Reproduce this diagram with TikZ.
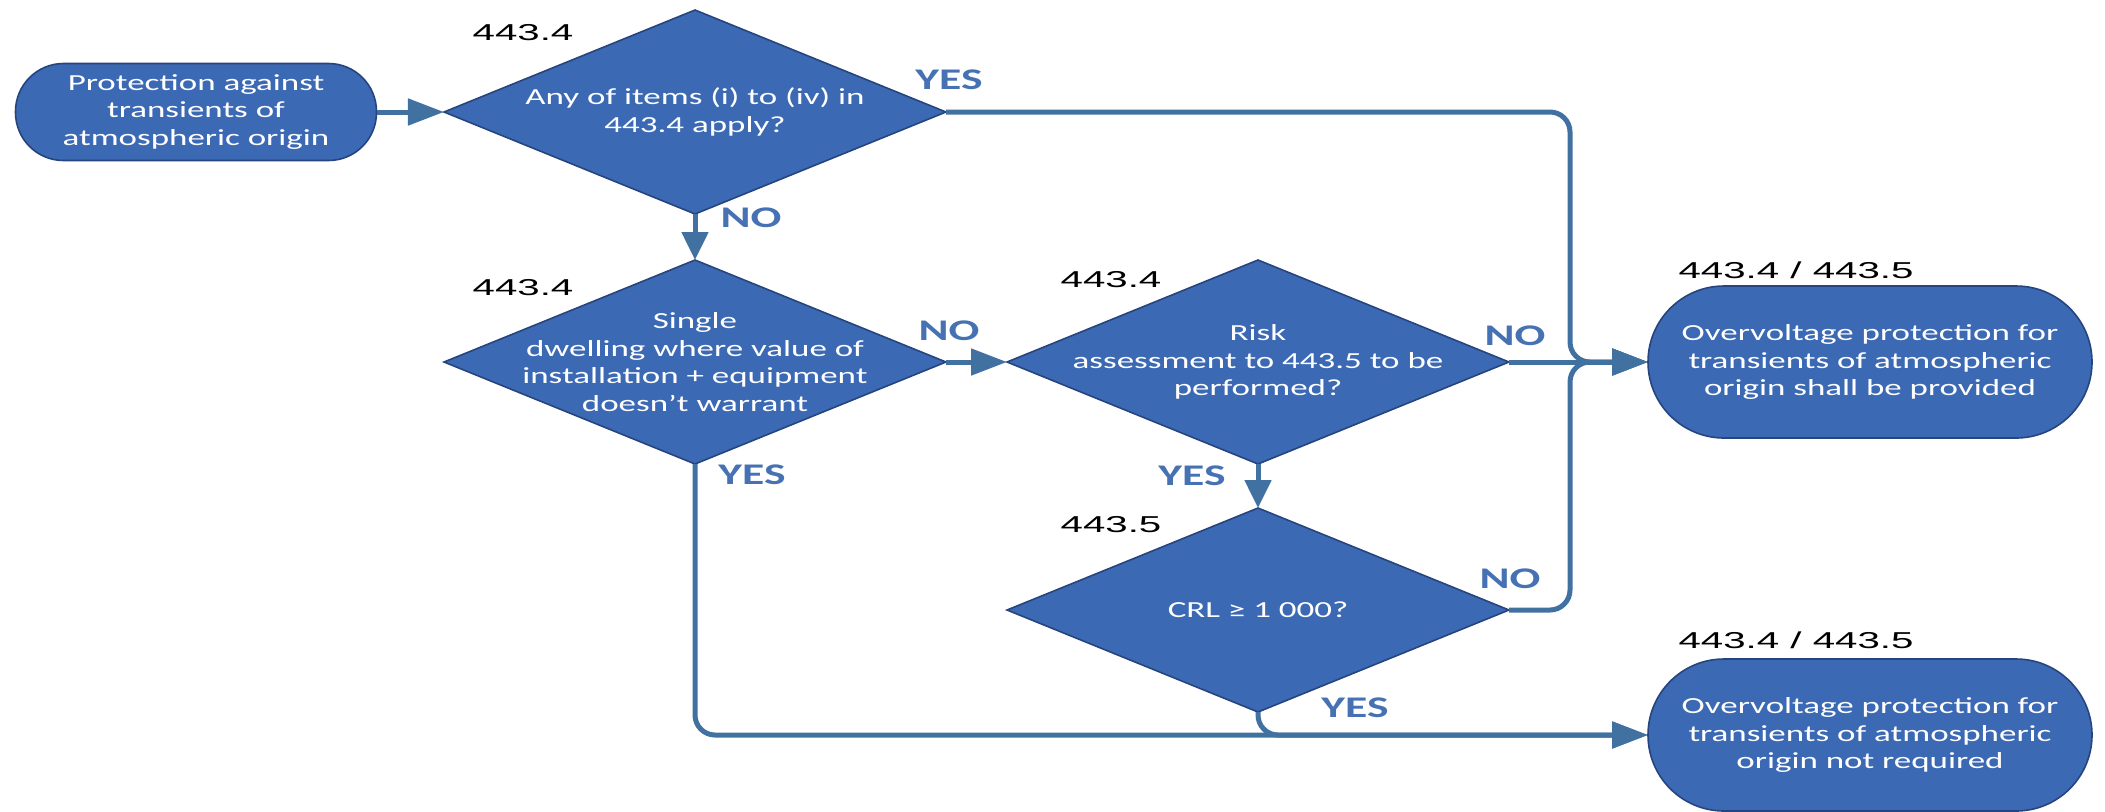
\documentclass[tikz,border=0pt]{standalone}
\usepackage{fontspec}
\usepackage{tikz}
\usetikzlibrary{shapes,arrows.meta}
\newfontfamily\shapefont{Carlito}[FakeStretch=1.52]
\newfontfamily\secfont{Liberation Sans}[FakeStretch=1.75]
\definecolor{shapefill}{RGB}{60,105,180}
\definecolor{shapeedge}{RGB}{38,68,125}
\definecolor{flowline}{RGB}{65,113,160}
\definecolor{answerblue}{RGB}{70,114,180}
\tikzstyle{decision} = [diamond, draw=shapeedge, fill=shapefill, line width=0.8pt, shape aspect=2.46,
    minimum width=251pt, minimum height=102pt, inner xsep=0pt, inner ysep=-14pt, outer sep=0pt,
    text=white, align=center, font=\shapefont\fontsize{11.5}{13.75}\selectfont]
\tikzstyle{terminal} = [rectangle, draw=shapeedge, fill=shapefill, line width=0.8pt, rounded corners=24pt,
    minimum width=180.5pt, minimum height=48.5pt, inner sep=2pt, outer sep=0pt,
    text=white, align=center, font=\shapefont\fontsize{11.5}{13.75}\selectfont]
\tikzstyle{bigterm} = [rounded corners=38pt, minimum width=222pt, minimum height=76pt]
\tikzstyle{sec} = [inner sep=0pt, font=\secfont\fontsize{11.5}{13}\selectfont]
\tikzstyle{reply} = [inner sep=0pt, text=answerblue, font=\shapefont\bfseries\fontsize{15}{18}\selectfont]
\tikzstyle{hline} = [draw=flowline, line width=2.5pt, -{Triangle[length=18pt,width=13pt]}]
\tikzstyle{vline} = [draw=flowline, line width=2.5pt, -{Triangle[length=14pt,width=13pt]}]

\begin{document}
\begin{tikzpicture}[node distance = 2cm]
    \useasboundingbox (0,0) rectangle (1052.5pt,-405.5pt);
    % Place nodes
    \node [terminal] (start) at (98pt,-56pt) {Protection against\\transients of\\atmospheric origin};
    \node [decision, right of=start, node distance=249.5pt] (items) {Any of items (i) to (iv) in\\443.4 apply?};
    \node [decision, below of=items, node distance=125pt] (dwelling) {Single\\dwelling where value of\\installation + equipment\\doesn’t warrant};
    \node [decision, right of=dwelling, node distance=281.5pt] (risk) {Risk\\assessment to 443.5 to be\\performed?};
    \node [decision, below of=risk, node distance=124pt] (crl) {CRL ≥ 1~000?};
    \node [terminal, bigterm, right of=risk, node distance=306pt] (provided) {Overvoltage protection for\\transients of atmospheric\\origin shall be provided};
    \node [terminal, bigterm, below of=provided, node distance=186.5pt] (notreq) {Overvoltage protection for\\transients of atmospheric\\origin not required};
    \node [coordinate, right of=risk, node distance=156pt] (bus) {};

    % Section references
    \node [sec] (secitems) at (261.5pt,-16.5pt) {443.4};
    \node [sec] (secdwelling) at (261.5pt,-144pt) {443.4};
    \node [sec] (secrisk) at (555.5pt,-140pt) {443.4};
    \node [sec] (seccrl) at (555.5pt,-262.5pt) {443.5};
    \node [sec] (secprovided) at (898pt,-135pt) {443.4 / 443.5};
    \node [sec] (secnotreq) at (898pt,-320pt) {443.4 / 443.5};

    % Answers
    \node [reply] (itemsyes) at (474.5pt,-40pt) {YES};
    \node [reply] (itemsno) at (375.5pt,-109pt) {NO};
    \node [reply] (dwellingno) at (474.5pt,-165.5pt) {NO};
    \node [reply] (dwellingyes) at (376pt,-237.5pt) {YES};
    \node [reply] (riskno) at (757.5pt,-168pt) {NO};
    \node [reply] (riskyes) at (596pt,-238pt) {YES};
    \node [reply] (crlno) at (755pt,-289.5pt) {NO};
    \node [reply] (crlyes) at (677.5pt,-354pt) {YES};

    % Draw edges
    \path [hline] (start) -- (items);
    \path [vline] (items) -- (dwelling);
    \path [hline] (dwelling) -- (risk);
    \path [vline] (risk) -- (crl);
    \path [hline] (risk) -- (provided);
    \path [hline, rounded corners=10pt] (items) -| (bus) -- (provided);
    \path [hline, rounded corners=10pt] (crl) -| (bus) -- (provided);
    \path [hline, rounded corners=10pt] (dwelling) |- (notreq);
    \path [hline, rounded corners=10pt] (crl) |- (notreq);
\end{tikzpicture}
\end{document}
